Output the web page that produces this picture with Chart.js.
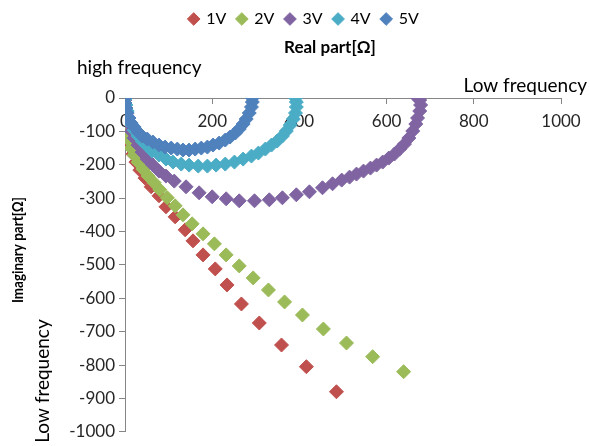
<!DOCTYPE html>
<html>
<head>
<meta charset="utf-8">
<script src="https://cdn.jsdelivr.net/npm/chart.js@4.4.1/dist/chart.umd.min.js"></script>
<style>
  body { margin: 0; background: #fff; }
</style>
</head>
<body>
<canvas id="nyquist" width="590" height="446"></canvas>
<script>
  const seriesNames = ["1V", "2V", "3V", "4V", "5V"];
  const seriesColors = ["#C0504D", "#9BBB59", "#8064A2", "#4BACC6", "#4F81BD"];

  // real part / imaginary part, from high frequency (origin) to low frequency
  const real1V = [0, 1, 2, 5, 9, 14, 18, 25, 34, 46, 60, 78, 94, 115, 138, 156, 179, 207, 234, 267, 308, 359, 416, 485];
  const imag1V = [-6, -36, -66, -93, -120, -144, -168, -192, -216, -240, -266, -293, -326, -356, -395, -428, -470, -512, -560, -617, -674, -740, -805, -880];

  const real2V = [0, 0, 2, 5, 9, 14, 21, 30, 41, 53, 67, 80, 97, 115, 133, 154, 179, 205, 232, 262, 294, 329, 366, 407, 455, 508, 568, 639];
  const imag2V = [-6, -36, -69, -99, -126, -150, -171, -192, -213, -234, -254, -275, -299, -323, -350, -377, -407, -437, -470, -503, -539, -575, -611, -650, -692, -734, -775, -820];

  const real3V = [0, 2, 5, 9, 14, 21, 30, 39, 51, 64, 78, 94, 113, 140, 170, 200, 232, 262, 297, 331, 361, 393, 423, 453, 476, 497, 515, 531, 547, 563, 577, 591, 605, 618, 630, 641, 651, 660, 667, 671, 676, 678, 676, 671];
  const imag3V = [-6, -30, -54, -78, -99, -120, -141, -162, -183, -201, -219, -234, -249, -266, -284, -296, -302, -308, -308, -305, -299, -290, -281, -269, -257, -246, -237, -228, -219, -210, -201, -192, -180, -168, -153, -138, -120, -99, -78, -60, -39, -21, -6, 0];

  const real4V = [0, 2, 5, 9, 14, 21, 30, 39, 51, 62, 78, 94, 110, 129, 147, 168, 189, 209, 230, 251, 271, 290, 306, 322, 336, 349, 361, 370, 379, 386, 391, 393, 393, 391];
  const imag4V = [-3, -21, -39, -60, -78, -96, -114, -129, -144, -159, -171, -183, -192, -198, -201, -204, -204, -201, -198, -192, -183, -174, -165, -153, -141, -129, -114, -99, -81, -63, -45, -27, -12, 0];

  const real5V = [0, 0, 2, 5, 9, 14, 21, 30, 39, 51, 64, 78, 92, 106, 120, 133, 147, 161, 175, 189, 202, 216, 230, 241, 253, 262, 271, 278, 285, 290, 292, 292];
  const imag5V = [0, -15, -30, -45, -60, -75, -87, -102, -114, -123, -132, -141, -147, -150, -153, -156, -156, -153, -150, -147, -141, -135, -126, -117, -105, -93, -78, -63, -45, -27, -12, 0];

  const realSeries = [real1V, real2V, real3V, real4V, real5V];
  const imagSeries = [imag1V, imag2V, imag3V, imag4V, imag5V];

  const xTickStep = 200;
  const yTickStep = 100;

  Chart.defaults.font.family = "Lato, 'Open Sans', sans-serif";
  Chart.defaults.color = '#262626';

  const datasets = seriesNames.map((name, i) => ({
    label: name,
    data: realSeries[i].map((x, j) => ({ x: x, y: imagSeries[i][j] })),
    backgroundColor: seriesColors[i],
    borderColor: seriesColors[i],
    borderWidth: 1,
    pointStyle: 'rectRot',
    pointRadius: 7,
    pointHoverRadius: 7,
    // later series sit on top, like in the spreadsheet
    order: seriesNames.length - i
  }));

  // keep the room above the plot inside the legend box
  const legendRoom = {
    id: 'legendRoom',
    beforeInit(chart) {
      const fit = chart.legend.fit;
      chart.legend.fit = function () {
        fit.call(this);
        this.height = 98;
      };
    }
  };

  const notes = {
    id: 'notes',
    afterDraw(chart) {
      const ctx = chart.ctx;
      ctx.save();
      ctx.fillStyle = '#000';
      ctx.textBaseline = 'middle';

      ctx.font = "bold 17px Lato";
      ctx.textAlign = 'center';
      ctx.fillText('Real part[Ω]', 330, 48);

      ctx.font = "19px Lato";
      ctx.textAlign = 'left';
      ctx.fillText('high frequency', 77, 68);
      ctx.textAlign = 'right';
      ctx.fillText('Low frequency', 587, 86);

      // narrow bold title, squeezed along its length
      ctx.save();
      ctx.translate(18, 250);
      ctx.rotate(-Math.PI / 2);
      ctx.scale(0.84, 1);
      ctx.font = "bold 16px Lato";
      ctx.textAlign = 'center';
      ctx.fillText('Imaginary part[Ω]', 0, 0);
      ctx.restore();

      ctx.save();
      ctx.translate(43, 381);
      ctx.rotate(-Math.PI / 2);
      ctx.font = "19px Lato";
      ctx.textAlign = 'center';
      ctx.fillText('Low frequency', 0, 0);
      ctx.restore();

      ctx.restore();
    }
  };

  const ctx = document.getElementById('nyquist');

  const nyquistChart = new Chart(ctx, {
    type: 'scatter',
    data: { datasets: datasets },
    options: {
      responsive: false,
      animation: false,
      devicePixelRatio: 1,
      layout: {
        padding: { left: 47, right: 29, top: 0, bottom: 14 }
      },
      plugins: {
        legend: {
          position: 'top',
          reverse: true,
          labels: {
            usePointStyle: true,
            pointStyle: 'rectRot',
            boxWidth: 9,
            boxHeight: 9,
            padding: 11,
            color: '#000',
            font: { size: 16 }
          }
        },
        tooltip: { enabled: false }
      },
      scales: {
        x: {
          type: 'linear',
          position: { y: 0 },
          min: 0,
          max: 1000,
          ticks: {
            stepSize: xTickStep,
            padding: 8,
            font: { size: 17 },
            callback: (value) => String(value)
          },
          grid: {
            drawOnChartArea: false,
            tickLength: 5,
            tickColor: '#868686'
          },
          border: { color: '#868686' }
        },
        y: {
          type: 'linear',
          position: 'left',
          min: -1000,
          max: 0,
          afterFit(scale) {
            scale.width = 78;
          },
          ticks: {
            stepSize: yTickStep,
            padding: 4,
            font: { size: 17 },
            callback: (value) => String(value)
          },
          grid: {
            drawOnChartArea: false,
            tickLength: 6,
            tickColor: '#868686'
          },
          border: { color: '#868686' }
        }
      }
    },
    plugins: [legendRoom, notes]
  });
</script>
</body>
</html>
